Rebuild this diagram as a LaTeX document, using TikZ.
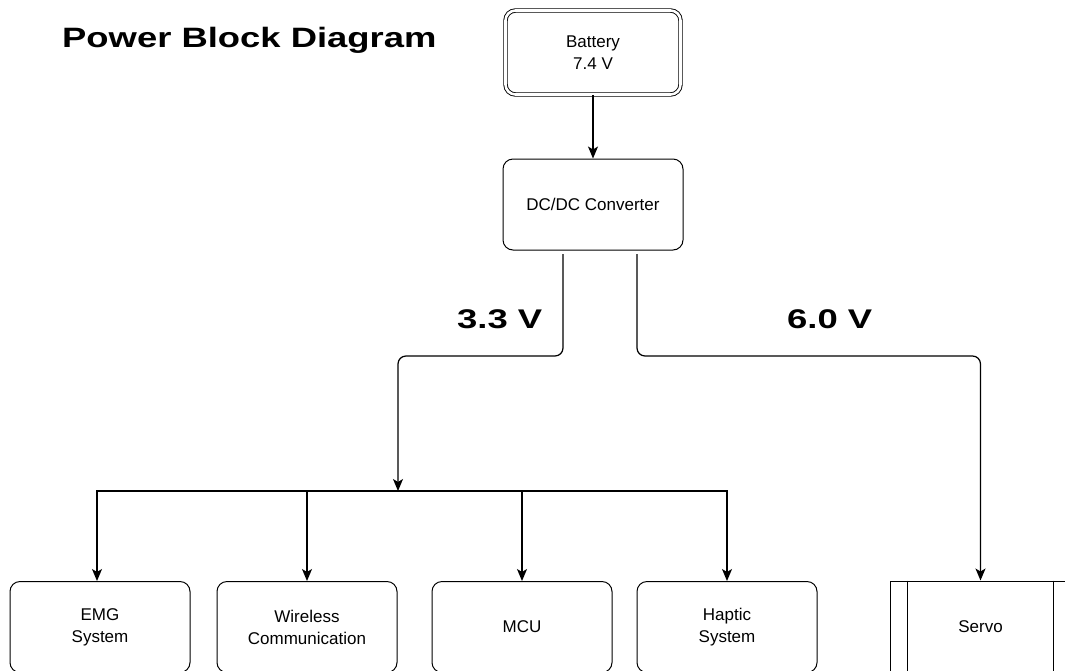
\documentclass[tikz,border=0pt]{standalone}
\usepackage{fontspec}
\setmainfont{Liberation Sans}
\usetikzlibrary{arrows.meta}
\begin{document}
\begin{tikzpicture}[x=1pt,y=-1pt,
  box/.style={draw, line width=1pt, rounded corners=10pt, minimum width=180pt,
    minimum height=91pt, align=center, inner sep=0pt,
    font=\fontsize{17}{22}\selectfont},
  batbox/.style={box, draw, double=white, double distance=2.6pt, line width=0.9pt,
    minimum width=175pt, minimum height=84pt},
  procbox/.style={draw, line width=1pt, minimum width=181pt, minimum height=92pt,
    align=center, inner sep=0pt, font=\fontsize{17}{22}\selectfont},
  conn/.style={line width=1.25pt, rounded corners=8pt},
  arr/.style={conn, -{Stealth[length=12pt,width=10pt,inset=3pt]}},
  busarr/.style={line width=1.25pt, sharp corners, -{Stealth[length=12pt,width=10pt,inset=3pt]}},
  bigbold/.style={anchor=base west, inner sep=0pt, font=\fontsize{27}{32}\bfseries\selectfont}
]
\useasboundingbox (0,0) rectangle (1065,670);
\clip (0,0) rectangle (1065,670);

\node[anchor=base west, inner sep=0pt, font=\fontsize{28}{34}\bfseries\selectfont] (title)
  at (62,47) {\scalebox{1.3}[1]{Power Block Diagram}};

\node[batbox] (bat) at (593,52.5) {Battery\\7.4 V};
\node[box] (dc) at (593,204.5) {DC/DC Converter};

\node[box] (emg) at (100,627) {EMG\\System};
\node[box] (wl) at (307,627) {Wireless\\Communication};
\node[box] (mcu) at (522,627) {MCU};
\node[box] (hap) at (727,627) {Haptic\\System};
\node[procbox] (servo) at (980.5,627) {Servo};
\draw[line width=1pt] ([xshift=18pt]servo.north west) -- ([xshift=18pt]servo.south west);
\draw[line width=1pt] ([xshift=-18pt]servo.north east) -- ([xshift=-18pt]servo.south east);

\node[bigbold] (l33) at (457,328) {\scalebox{1.35}[1]{3.3 V}};
\node[bigbold] (l60) at (787,328) {\scalebox{1.35}[1]{6.0 V}};

\coordinate (dl) at (563,254);
\coordinate (dr) at (637,254);
\coordinate (jl) at (398,491);

\draw[arr] (bat.south) -- (dc.north);
\draw[arr] (dl) -- ++(0,102) -| (jl);
\draw[arr] (dr) -- ++(0,102) -| (servo.north);

\draw[busarr] (jl) -| ([xshift=-3pt]emg.north);
\draw[busarr] (jl) -| (wl.north);
\draw[busarr] (jl) -| (mcu.north);
\draw[busarr] (jl) -| (hap.north);
\end{tikzpicture}
\end{document}
